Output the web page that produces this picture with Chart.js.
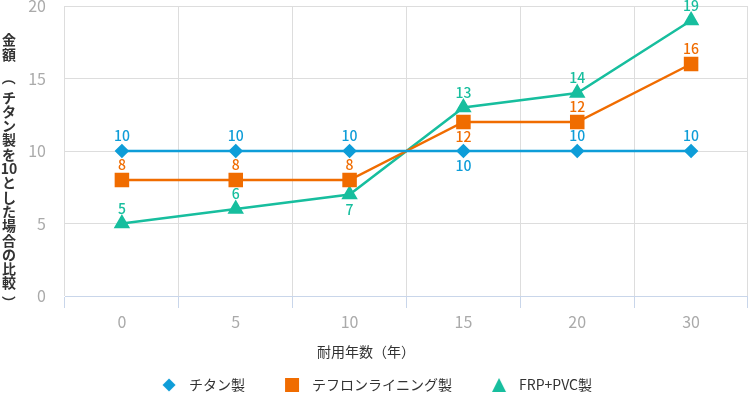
<!DOCTYPE html>
<html lang="ja">
<head>
<meta charset="utf-8">
<script src="https://cdn.jsdelivr.net/npm/chart.js@4.4.1/dist/chart.umd.min.js"></script>
<style>
  html, body { margin: 0; padding: 0; background: #fff; }
  #wrap { width: 748px; height: 396px; position: relative; }
</style>
</head>
<body>
<div id="wrap"><canvas id="chart"></canvas></div>
<script>
// --- data ---
const years = ['0', '5', '10', '15', '20', '30'];
const titanium = [10, 10, 10, 10, 10, 10];
const teflon = [8, 8, 8, 12, 12, 16];
const frpPvc = [5, 6, 7, 13, 14, 19];
const yTicks = [0, 5, 10, 15, 20];
const seriesNames = ['チタン製', 'テフロンライニング製', 'FRP+PVC製'];
// which labels sit under their point instead of above
const labelBelow = [
  [false, false, false, true, false, false],
  [false, false, false, true, false, false],
  [false, false, true, false, false, false]
];

const FONT = '"Noto Sans CJK JP", "Noto Sans", sans-serif';
const BLUE = '#0e9dd8', ORANGE = '#f06c00', TEAL = '#17be9e';

// small marker images for the legend (library point sizes are shared there)
function legendMarker(kind, color) {
  const c = document.createElement('canvas');
  c.width = 16; c.height = 16;
  const g = c.getContext('2d');
  g.fillStyle = color;
  g.beginPath();
  if (kind === 'diamond') {
    g.moveTo(8, 1.5); g.lineTo(14.5, 8); g.lineTo(8, 14.5); g.lineTo(1.5, 8);
  } else if (kind === 'square') {
    g.rect(1, 1, 14, 14);
  } else {
    g.moveTo(8, 1); g.lineTo(15, 15); g.lineTo(1, 15);
  }
  g.closePath();
  g.fill();
  return c;
}
const legendMarkers = [
  legendMarker('diamond', BLUE),
  legendMarker('square', ORANGE),
  legendMarker('triangle', TEAL)
];

// value labels next to each point
const valueLabels = {
  id: 'valueLabels',
  afterDatasetsDraw(chart) {
    const ctx = chart.ctx;
    ctx.save();
    ctx.font = '500 14px ' + FONT;
    ctx.textAlign = 'center';
    ctx.textBaseline = 'middle';
    chart.data.datasets.forEach((ds, i) => {
      const meta = chart.getDatasetMeta(i);
      ctx.fillStyle = ds.borderColor;
      meta.data.forEach((pt, j) => {
        const dy = labelBelow[i][j] ? 15 : -15;
        ctx.fillText(String(ds.data[j]), pt.x, pt.y + dy);
      });
    });
    ctx.restore();
  }
};

// axis titles: vertical (tategaki) for y, plain for x
const axisTitles = {
  id: 'axisTitles',
  afterDraw(chart) {
    const ctx = chart.ctx;
    ctx.save();
    ctx.fillStyle = '#333';
    ctx.textAlign = 'center';
    ctx.textBaseline = 'middle';
    ctx.font = 'bold 14px ' + FONT;
    const cells = ['金', '額', ' ', '（', 'チ', 'タ', 'ン', '製', 'を', '10', 'と', 'し', 'た', '場', '合', 'の', '比', '較', '）'];
    let y = 40;
    cells.forEach(c => {
      if (c === '（' || c === '）') {
        // brackets turn with the column, nudged toward the middle of their cell
        ctx.save();
        ctx.translate(9, y);
        ctx.rotate(Math.PI / 2);
        ctx.fillText(c, c === '（' ? -5 : 5, 0);
        ctx.restore();
      } else if (c !== ' ') {
        ctx.fillText(c, 9, y);
      }
      y += 14.3;
    });
    ctx.font = '14px ' + FONT;
    ctx.fillText('耐用年数（年）', 366, 352);
    ctx.restore();
  }
};

new Chart(document.getElementById('chart'), {
  type: 'line',
  data: {
    labels: years,
    datasets: [
      { label: seriesNames[0], data: titanium, borderColor: BLUE, backgroundColor: BLUE,
        pointStyle: 'rectRot', pointRadius: 5.5, borderWidth: 2.5, tension: 0 },
      { label: seriesNames[1], data: teflon, borderColor: ORANGE, backgroundColor: ORANGE,
        pointStyle: 'rect', pointRadius: 8.5, borderWidth: 2.5, tension: 0 },
      { label: seriesNames[2], data: frpPvc, borderColor: TEAL, backgroundColor: TEAL,
        pointStyle: 'triangle', pointRadius: 7, borderWidth: 2.5, tension: 0 }
    ]
  },
  options: {
    responsive: true,
    maintainAspectRatio: false,
    animation: false,
    layout: { autoPadding: false, padding: { top: 0, right: 0, bottom: 0, left: 0 } },
    plugins: {
      tooltip: { enabled: false },
      legend: {
        position: 'bottom',
        maxHeight: 52,
        labels: {
          usePointStyle: true,
          pointStyleWidth: 26,
          boxHeight: 14,
          padding: 34,
          color: '#333',
          font: { family: FONT, size: 14 },
          generateLabels(chart) {
            const items = Chart.defaults.plugins.legend.labels.generateLabels(chart);
            items.forEach((it, i) => { it.pointStyle = legendMarkers[i]; });
            return items;
          }
        }
      }
    },
    scales: {
      x: {
        offset: true,
        grid: { color: '#dddddd', tickColor: '#c9d6ea', tickLength: 12, offset: true },
        border: { color: '#c9d6ea' },
        ticks: { color: '#aaaaaa', padding: 4, font: { family: FONT, size: 16 } },
        afterFit(scale) { scale.height = 48; scale.paddingLeft = 0; scale.paddingRight = 0; }
      },
      y: {
        min: 0, max: 20,
        afterBuildTicks(scale) { scale.ticks = yTicks.map(v => ({ value: v })); },
        grid: { color: '#dddddd', drawTicks: false },
        border: { display: false },
        ticks: { color: '#aaaaaa', padding: 19, font: { family: FONT, size: 16 } },
        afterFit(scale) { scale.width = 65; scale.paddingTop = 6; scale.paddingBottom = 0; }
      }
    }
  },
  plugins: [valueLabels, axisTitles]
});
</script>
</body>
</html>
